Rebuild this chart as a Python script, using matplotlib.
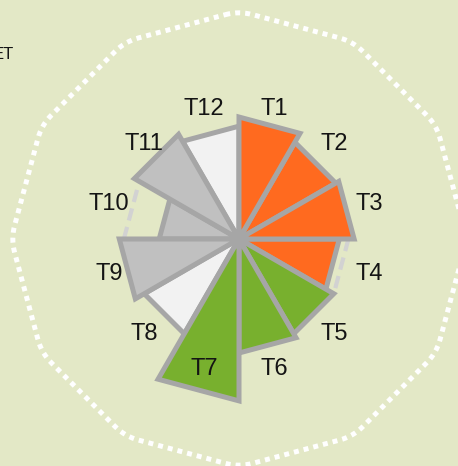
import numpy as np
import matplotlib
matplotlib.use("Agg")
import matplotlib.pyplot as plt

# ---- data ----
categories = ["T1", "T2", "T3", "T4", "T5", "T6", "T7", "T8", "T9", "T10", "T11", "T12"]
values = [53.5, 49, 50.5, 44, 48, 50, 71, 48, 52.5, 35, 53, 49.5]
targets = [np.nan, np.nan, np.nan, 48, np.nan, np.nan, np.nan, np.nan, np.nan, 50.5, np.nan, np.nan]
groups = ["A", "A", "A", "A", "B", "B", "B", "N", "C", "C", "C", "N"]
corner_text = "ET"

group_colors = {"A": "#FF6A1F", "B": "#78B02E", "C": "#C0C0C0", "N": "#F2F2F2"}
bg = "#E3E8C6"
edge = "#A6A6A6"

W, H = 458, 466
fig = plt.figure(figsize=(W / 100, H / 100), dpi=100, facecolor=bg)
cx, cy, R = 239, 239, 228
ax = fig.add_axes([(cx - R) / W, (H - cy - R) / H, 2 * R / W, 2 * R / H], projection="polar")
ax.set_facecolor(bg)
ax.set_theta_zero_location("N")
ax.set_theta_direction(-1)
ax.set_ylim(0, 100)
ax.grid(False)
ax.set_xticks([])
ax.set_yticks([])
ax.spines["polar"].set_visible(False)
ax.patch.set_alpha(0)

n = len(categories)
step = 2 * np.pi / n

# outer dotted dodecagon with rounded corners
vt = np.arange(n) * step
vx, vy = 100 * np.sin(vt), 100 * np.cos(vt)
cut = 0.12
px, py = [], []
for k in range(n):
    p0 = np.array([vx[k - 1], vy[k - 1]])
    p1 = np.array([vx[k], vy[k]])
    p2 = np.array([vx[(k + 1) % n], vy[(k + 1) % n]])
    a = p1 + (p0 - p1) * cut
    b = p1 + (p2 - p1) * cut
    for t in np.linspace(0, 1, 9):
        q = (1 - t) ** 2 * a + 2 * (1 - t) * t * p1 + t ** 2 * b
        px.append(q[0]); py.append(q[1])
px.append(px[0]); py.append(py[0])
px, py = np.array(px), np.array(py)
ax.plot(np.arctan2(px, py), np.hypot(px, py), color="white", lw=3.6, linestyle=(0, (1, 1)),
        clip_on=False, dash_capstyle="butt", zorder=1)

# dashed target segments
for i, t in enumerate(targets):
    if not np.isnan(t):
        ax.plot([i * step, (i + 1) * step], [t, t], color="#D2D2D2", lw=3.0,
                linestyle=(0, (3, 1.6)), dash_capstyle="butt", zorder=2)

# wedges
order = list(np.argsort(values))
for rank, i in enumerate(order):
    v = values[i]
    a0, a1 = i * step, (i + 1) * step
    ax.fill([0, a0, a1], [0, v, v], facecolor=group_colors[groups[i]],
            edgecolor=edge, lw=3.6, joinstyle="miter", zorder=3 + rank * 0.01)

# labels
for i, c in enumerate(categories):
    ax.text((i + 0.5) * step, 59, c, ha="center", va="center", fontsize=17,
            family=["Liberation Sans", "DejaVu Sans"], color="#141414", zorder=5)

fig.text(14 / W, 1 - 59 / H, corner_text, ha="right", va="baseline", fontsize=12,
         family=["Liberation Sans", "DejaVu Sans"], color="#141414")

fig.savefig("out.png", dpi=100, facecolor=bg)
